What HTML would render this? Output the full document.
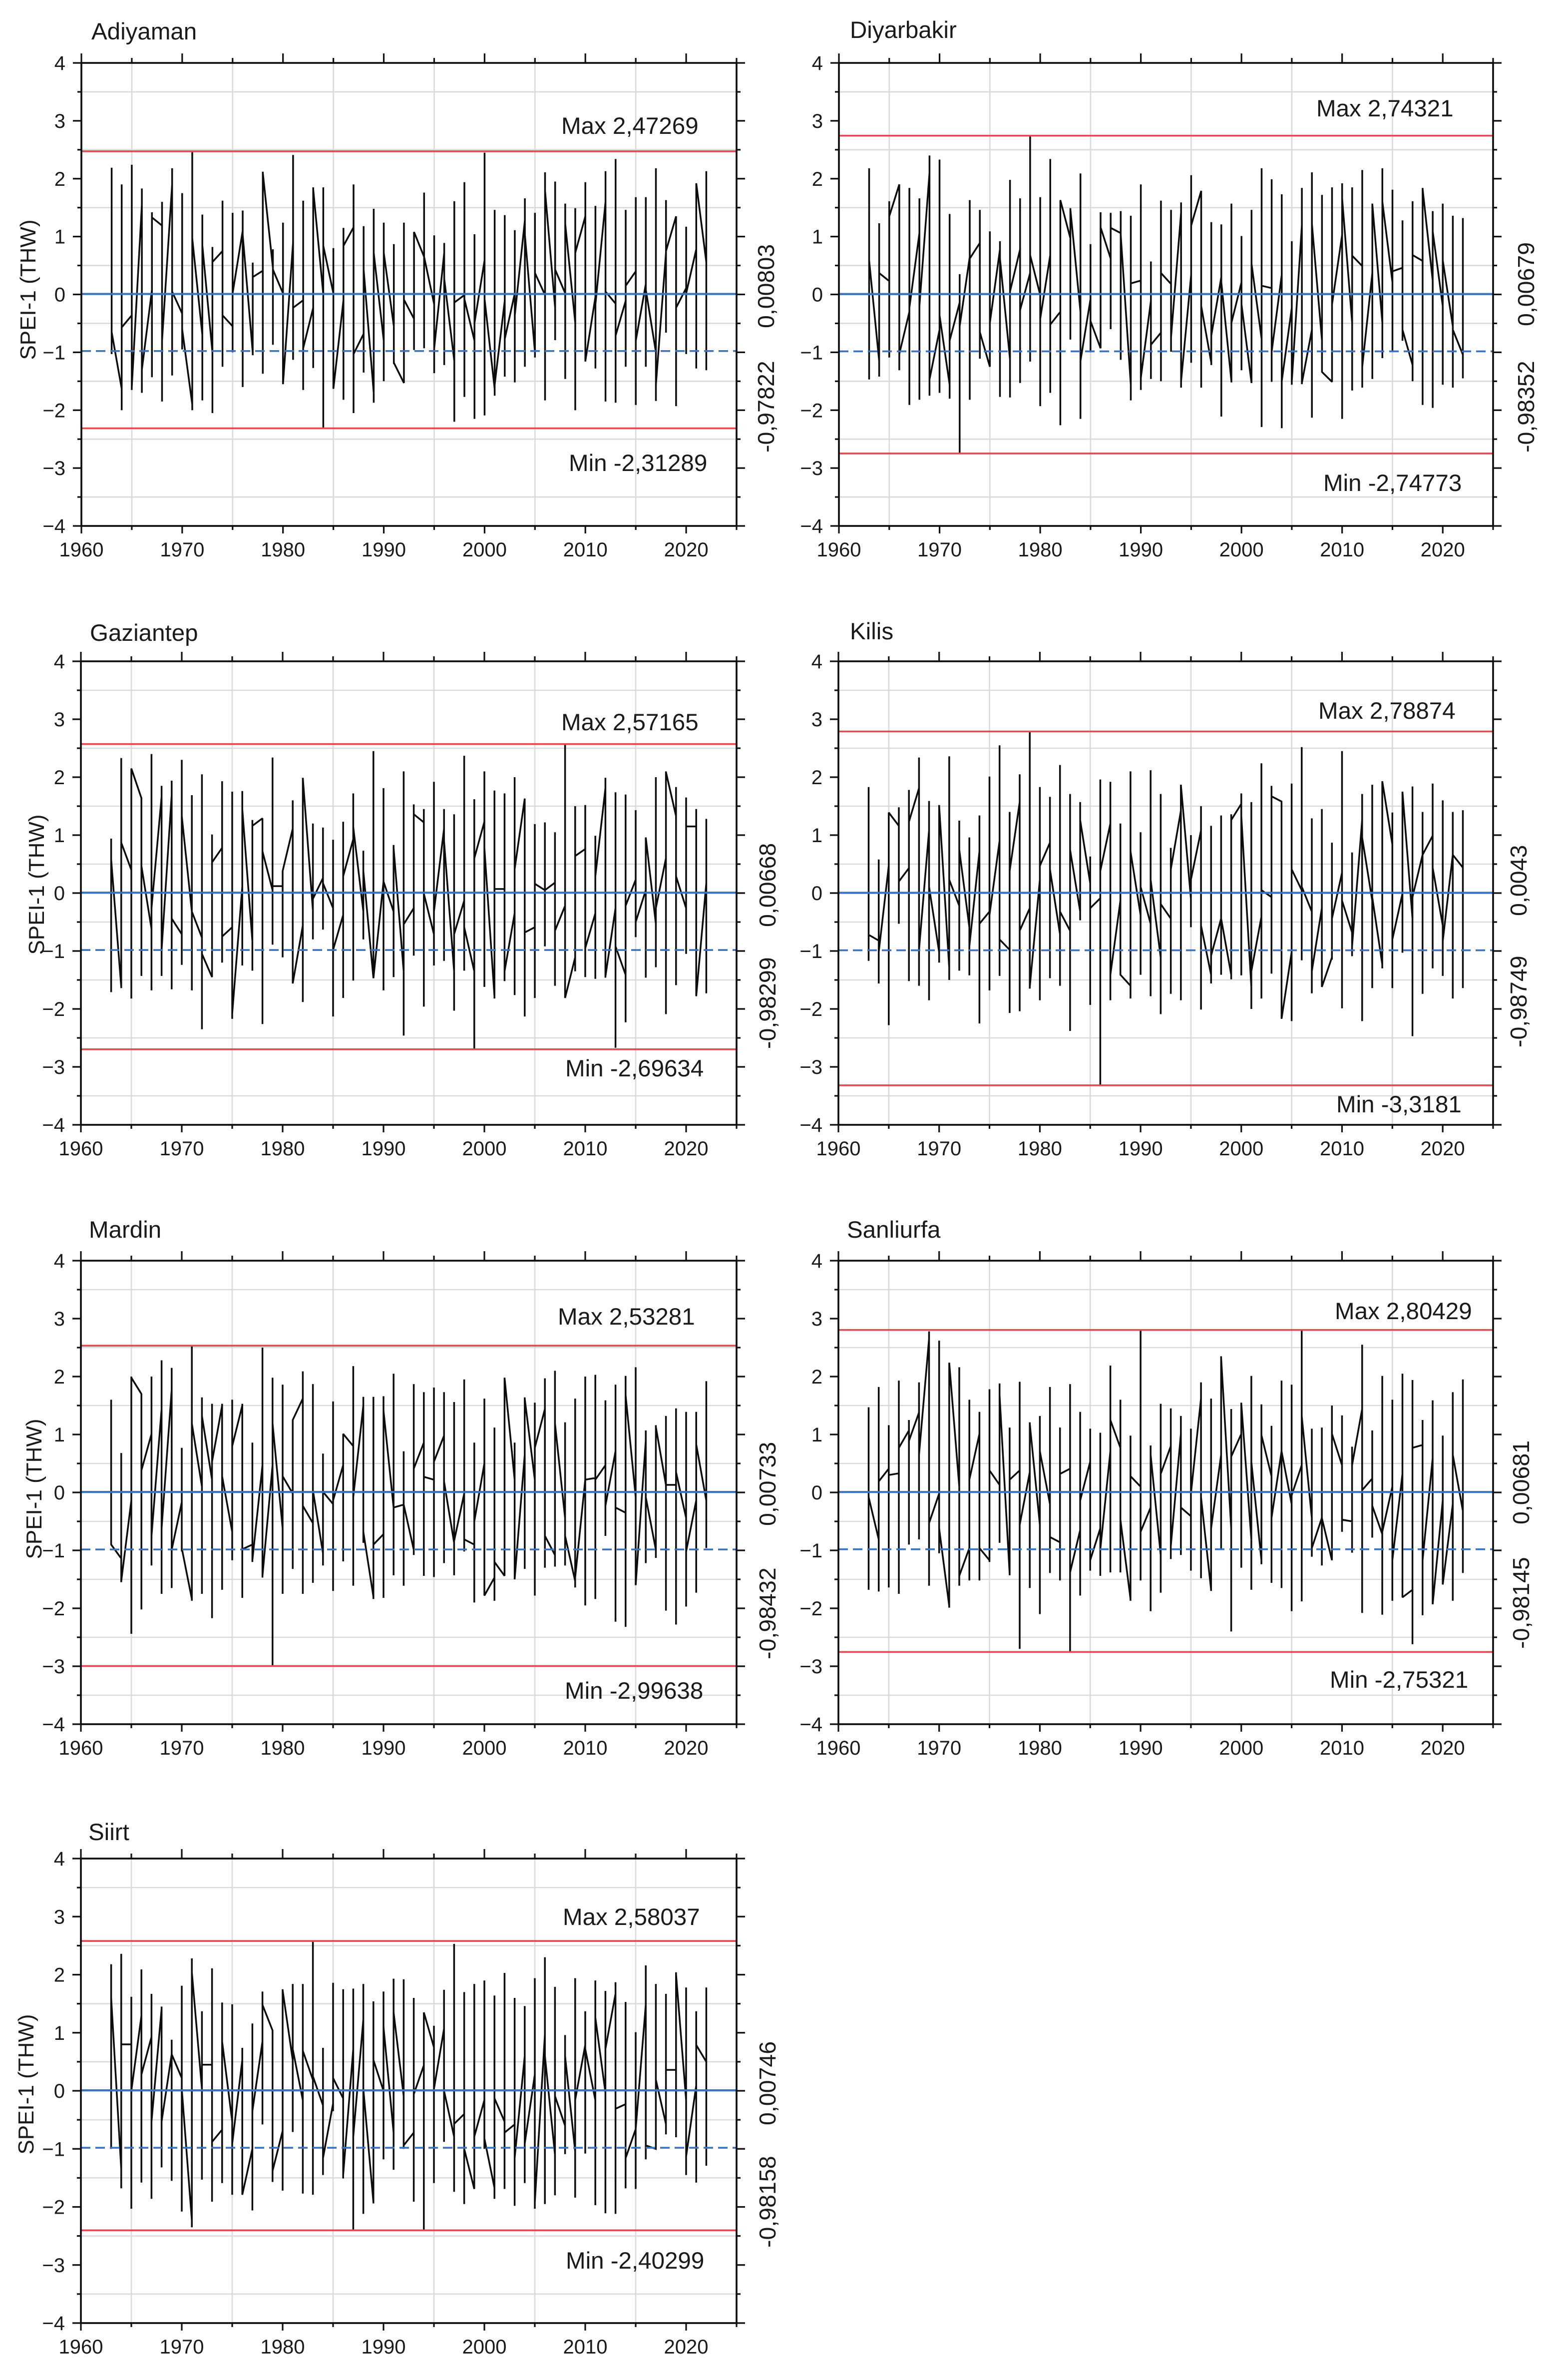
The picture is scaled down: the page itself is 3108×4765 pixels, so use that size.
<!DOCTYPE html>
<html lang="en">
<head>
<meta charset="utf-8">
<title>SPEI-1 (THW) time series by province</title>
<style>
html,body{margin:0;padding:0;background:#fff;}
svg{display:block;}
text{font-family:"Liberation Sans",Arial,sans-serif;fill:#1a1a1a;}
</style>
</head>
<body>
<svg id="chart" xmlns="http://www.w3.org/2000/svg" width="3108" height="4765" viewBox="0 0 3108 4765"></svg>
<script>
const firstYear = 1963;
const xTickLabels = ["1960","1970","1980","1990","2000","2010","2020"];
const yTickLabels = ["4","3","2","1","0","\u22121","\u22122","\u22123","\u22124"];
const yTickValues = [4,3,2,1,0,-1,-2,-3,-4];

const adiyamanHigh = [2.19,1.9,2.24,1.83,1.42,1.6,2.18,1.75,2.47,1.38,.82,1.62,1.41,1.45,.55,2.12,.78,1.24,2.41,1.62,1.85,1.85,.8,1.15,1.9,1.18,1.48,1.24,.87,1.24,1.08,1.76,1.02,.89,1.61,1.94,1.04,2.45,1.46,1.37,1.11,1.66,1.41,2.11,1.95,1.57,1.49,1.94,1.53,2.13,2.34,1.46,1.68,1.68,2.18,1.63,1.35,1.17,1.92,2.13];
const adiyamanLow = [-1.03,-2.0,-1.65,-1.7,-1.43,-1.85,-1.4,-.95,-2.0,-1.83,-2.05,-1.25,-1.0,-1.6,-1.05,-1.37,-.87,-1.55,-1.13,-1.65,-1.27,-2.31,-1.62,-1.82,-2.05,-1.35,-1.87,-1.5,-1.2,-1.53,-.96,-.93,-1.36,-1.22,-2.2,-1.77,-2.15,-2.09,-1.75,-1.42,-1.52,-1.25,-1.09,-1.83,-.79,-1.46,-2.0,-1.16,-1.28,-1.85,-1.87,-1.25,-1.91,-1.25,-1.84,-.66,-1.93,-1.03,-1.28,-1.31];
const adiyamanFirst = [-.65,-1.63,-.36,1.55,.08,1.19,1.9,-.33,-1.9,-.7,-1.0,.75,-.55,1.1,-1.0,.41,.46,.02,.9,-.1,-.23,0,.02,-.1,1.16,-.68,-1.7,-.8,-.55,-1.53,-.42,.65,-.17,.72,-1.15,-.01,-.8,.59,-1.63,-.11,.02,1.28,-1.0,-.01,-.23,.02,-.49,1.35,-.04,1.6,-.16,-.11,.4,.18,-1.0,.72,1.35,.11,.78,.56];
const adiyamanLast = [-.65,-.57,-1.6,-1.3,1.33,-.8,.05,-.6,.97,.85,.56,-.36,.02,1.03,.3,2.1,.43,-1.55,-.23,-.93,1.82,.84,-1.63,.84,-1.03,.43,.72,.72,-1.18,-.09,1.08,.65,-.93,.27,-.14,-.08,-.49,-.08,-1.56,-.77,-.36,1.03,.37,1.79,.43,1.22,.72,-1.15,-.17,.05,-.71,.15,-.8,.08,-1.56,.75,-.23,.02,1.92,.56];

const diyarbakirHigh = [2.18,1.23,1.61,1.9,1.84,1.66,2.4,2.33,1.39,.35,1.63,1.46,1.09,.92,1.98,1.66,2.74,1.68,2.34,1.63,1.49,2.09,.87,1.42,1.41,1.44,1.36,1.9,.57,1.62,1.46,1.59,2.06,1.79,1.25,1.21,1.57,1.01,1.46,2.18,1.99,1.73,.92,1.84,2.11,1.72,1.85,1.92,1.85,2.15,1.57,2.18,1.81,1.28,1.61,1.84,1.44,1.57,1.36,1.32];
const diyarbakirLow = [-1.47,-1.42,-1.09,-1.31,-1.91,-1.82,-1.75,-1.7,-1.8,-2.75,-1.82,-1.11,-1.25,-1.77,-1.78,-1.53,-1.16,-1.93,-1.7,-2.26,-.78,-2.15,-1.0,-.93,-.6,-1.13,-1.83,-1.65,-1.46,-1.5,-.99,-1.61,-1.18,-1.61,-1.22,-2.11,-1.52,-1.31,-1.53,-2.29,-1.51,-2.31,-1.56,-1.55,-2.13,-1.34,-1.51,-2.15,-1.66,-1.61,-1.46,-1.1,-.97,-.8,-1.5,-1.91,-1.96,-1.56,-1.61,-1.45];
const diyarbakirFirst = [.59,-1.15,.23,1.9,-.3,1.06,2.1,-.61,-1.56,-.14,.65,.89,-1.25,.78,-1.12,.78,.37,-.01,.68,-.3,.97,-.3,-.08,-.93,.62,1.06,-1.56,.24,-.11,-.66,.18,1.41,.34,1.79,-1.18,.3,-1.5,.21,-1.53,-.77,.11,.34,-.23,1.19,-.61,-.8,-1.51,1.03,-.49,.49,.37,-.49,.21,.46,-1.22,.58,.24,-.2,-.55,-1.04];
const diyarbakirLast = [.59,.37,1.35,-1.03,-.23,-.2,-1.47,-.36,-.8,-.55,.62,-.65,-.49,.62,.05,-.27,.68,-.42,-.52,1.63,1.47,-1.15,-.46,1.16,1.15,1.03,.19,-1.44,-.87,.37,-.74,-1.5,1.19,-.2,-.71,.21,-.49,-.17,.53,.15,-.99,-1.5,-1.5,-1.53,1.22,-1.34,-.17,1.66,.67,-1.25,1.56,1.6,.4,-.61,.68,1.82,1.09,.59,-.61,-1.04];

const gaziantepHigh = [.94,2.33,2.15,1.65,2.4,1.85,1.94,2.3,1.69,2.05,1.01,1.93,1.75,1.76,1.26,1.29,2.34,.38,1.6,1.99,1.2,1.13,.92,1.23,1.72,.73,2.45,1.81,.83,2.1,1.53,1.45,1.92,1.45,1.36,2.37,1.62,2.1,1.77,1.72,2.0,1.62,1.19,1.22,1.05,2.57,1.5,1.52,.99,1.99,1.74,1.7,1.43,.96,2.0,2.1,1.83,1.65,1.45,1.28];
const gaziantepLow = [-1.71,-1.64,-1.82,-1.43,-1.68,-1.43,-1.66,-1.24,-1.68,-2.35,-1.45,-1.2,-2.17,-1.25,-1.34,-2.26,-.89,-1.11,-1.56,-1.88,-.8,-.63,-2.13,-1.81,-1.51,-.8,-1.47,-1.68,-1.45,-2.46,-1.08,-1.96,-1.25,-1.17,-2.03,-1.34,-2.7,-1.62,-1.82,-1.52,-1.76,-2.13,-1.81,-.92,-1.6,-1.81,-1.35,-1.45,-1.48,-1.46,-2.67,-2.23,-.76,-1.46,-1.28,-2.09,-1.59,-1.05,-1.78,-1.73];
const gaziantepFirst = [.58,-1.62,.4,1.64,-.62,1.66,1.69,-.71,-.32,-.77,-1.45,.78,-.59,.11,-.83,1.29,.05,.12,1.11,-.56,-.3,.26,-.26,-.38,.93,-.32,-1.47,.2,-.32,-1.35,-.26,1.22,-.71,1.11,-1.35,-.13,-1.35,1.23,-1.78,.07,-.35,1.63,-.59,.05,.18,-.22,-1.11,.76,-.35,1.81,-.26,-1.41,.23,.05,-.53,.6,1.33,-.26,1.15,.17];
const gaziantepLast = [.58,.87,2.15,.47,-.26,-.98,-.44,1.33,-.32,-1.05,.53,-.75,-2.08,1.45,1.16,.72,.12,.38,-1.56,1.99,-.1,.17,-.98,.29,1.14,.38,-1.47,.2,.78,-.54,1.36,-.01,-.32,.9,-.71,-.59,.6,.78,.07,-1.35,.41,-.68,.16,.05,-.65,-1.81,.64,-.95,.29,-1.44,-.92,-.22,-.5,.96,-.26,2.09,.29,1.15,-1.78,.5];

const kilisHigh = [1.83,.58,1.39,1.48,1.78,2.34,1.59,1.52,2.36,1.25,.96,1.34,2.01,2.55,1.4,2.05,2.79,1.83,1.66,2.21,1.71,1.57,.63,1.96,1.92,1.2,2.1,1.05,2.12,1.71,.78,1.87,1.0,1.5,1.16,1.34,1.36,1.72,1.57,2.24,1.85,1.57,1.89,2.52,1.29,1.45,.87,2.45,.7,1.71,1.87,1.93,1.39,1.75,1.84,1.4,1.89,1.6,1.4,1.43];
const kilisLow = [-1.17,-1.56,-2.28,-.53,-1.52,-1.6,-1.85,-1.2,-1.5,-1.34,-1.42,-2.25,-1.68,-1.43,-2.07,-2.04,-1.65,-1.85,-1.47,-1.6,-2.38,-.47,-1.93,-3.32,-1.85,-1.41,-1.82,-1.41,-1.78,-2.09,-1.74,-1.85,-.59,-2.01,-1.56,-1.41,-1.49,-1.42,-2.0,-1.82,-1.39,-2.17,-2.21,-1.16,-1.73,-1.62,-1.15,-1.99,-1.09,-2.21,-1.64,-1.3,-1.64,-1.03,-2.47,-1.74,-1.3,-1.43,-1.82,-1.64];
const kilisFirst = [-.72,-.82,.47,1.16,.43,1.81,1.08,-1.02,-1.29,-.22,-.59,.72,-.32,.9,-.98,1.57,-.26,.23,.87,-.71,-.65,-.32,.17,-.09,1.2,-.13,-1.6,-.38,-.53,-1.11,-.44,1.42,-.1,1.08,-1.41,-.44,-1.41,1.54,-1.62,-.41,-.07,1.58,-1.02,.05,-.32,-.26,-1.11,.35,-.68,1.26,-.13,-1.23,.84,-.01,-.44,.66,.99,-.56,.66,.44];
const kilisLast = [-.72,-1.02,1.39,.2,1.23,-.98,.11,1.51,.23,.75,-.92,-.53,-.38,-.8,.38,-.65,-1.62,.47,.41,-.32,.75,1.26,-.26,.38,-1.41,-1.41,.72,.11,.23,-.19,.41,1.87,.23,-.56,-1.08,-.44,1.26,1.33,-1.35,.05,1.67,-2.17,.41,.11,-1.35,-1.62,-.44,-.13,-.92,.96,-.07,1.93,-.8,1.75,-.07,.66,.44,-.83,.66,.44];

const mardinHigh = [1.6,.68,2.0,1.7,2.0,2.28,2.15,.77,2.53,1.64,1.53,1.53,1.6,1.53,.86,2.5,1.98,1.86,1.24,2.09,1.87,.67,1.57,1.01,2.18,1.65,1.65,1.66,2.05,.71,1.87,1.73,1.81,1.73,1.56,1.95,.86,1.62,1.12,1.98,.86,1.64,1.55,1.97,2.1,1.21,1.62,2.0,2.03,1.59,1.86,2.01,2.16,1.07,1.16,1.32,1.45,1.39,1.39,1.92];
const mardinLow = [-.9,-1.55,-2.44,-2.02,-1.26,-1.75,-1.65,-1.02,-1.87,-1.75,-2.17,-1.68,-1.17,-1.82,-1.2,-1.47,-3.0,-1.75,-1.32,-1.75,-1.56,-1.26,-1.7,-1.19,-1.61,-.87,-1.84,-1.82,-1.43,-1.61,-1.08,-1.44,-1.46,-1.22,-1.43,-1.02,-1.9,-1.78,-1.87,-1.44,-1.5,-1.32,-1.78,-1.3,-1.28,-1.26,-1.64,-1.95,-1.84,-.75,-2.23,-2.32,-1.6,-1.22,-1.13,-2.04,-2.28,-1.97,-1.73,-.96];
const mardinFirst = [-.9,-1.14,-.14,1.7,1.01,1.44,1.77,-.17,-1.84,.1,.22,1.5,-.68,1.5,-.9,.47,.47,-.62,-.02,1.62,-.53,-1.05,-.2,.47,.8,1.5,-1.8,-.72,-.26,-.21,-.99,.86,.22,.98,-.87,-.02,-.9,.5,-1.47,-1.44,.22,.65,.22,1.44,-1.08,-.44,-1.53,.22,.25,.47,.71,-.35,-.08,.89,-.99,.13,.13,-.44,-.14,-.14];
const mardinLast = [-.9,-1.53,1.98,.38,-.75,-.62,-.99,-.96,1.19,1.32,.53,.28,.8,-.98,-1.17,-1.44,1.19,.28,1.25,-.23,.04,.01,-.14,1.01,-.08,-.68,-.9,1.41,-.26,-.21,.41,.27,.53,.19,-.84,-.81,-.5,-1.78,-1.2,1.98,-1.5,1.62,.77,-.75,1.19,-.75,-1.47,.22,.22,-.23,-.26,1.68,-1.6,-.08,1.13,.13,.35,-1.02,.83,-.14];

const sanliurfaHigh = [1.47,1.82,1.16,1.93,1.25,1.9,2.78,2.62,2.24,2.16,1.6,1.39,1.78,1.88,1.12,1.91,1.21,1.32,1.82,1.12,1.87,1.39,1.1,1.03,2.19,1.6,.98,2.8,.81,1.53,1.45,1.32,1.1,1.9,1.62,2.35,1.44,1.55,2.01,1.52,1.15,1.93,1.86,2.8,1.1,1.12,1.5,1.33,.79,2.55,1.07,2.01,1.6,2.05,1.94,1.25,1.59,.98,1.73,1.95];
const sanliurfaLow = [-1.68,-1.71,-1.64,-1.75,-.9,-.81,-1.61,-1.05,-1.99,-1.61,-1.52,-1.52,-1.2,-.87,-1.43,-2.7,-1.65,-2.1,-1.39,-1.52,-2.75,-1.78,-1.35,-1.44,-1.38,-1.38,-1.87,-1.52,-2.05,-1.73,-1.15,-1.08,-1.35,-1.48,-1.7,-.98,-2.4,-1.3,-1.68,-1.24,-1.56,-1.65,-2.05,-1.88,-1.11,-1.26,-1.17,-.68,-1.04,-2.08,-.78,-2.11,-1.87,-1.81,-2.62,-2.12,-1.93,-1.59,-1.87,-1.39];
const sanliurfaFirst = [-.08,-.81,.41,.33,1.07,1.38,2.65,-.02,-1.96,.1,-.96,1.01,-1.17,.13,-1.41,.38,.35,-.56,-.2,-.86,.41,-.65,.53,-.62,.71,.77,-1.84,.1,-.26,-1.08,.8,1.01,-.41,1.62,-1.68,.65,-.62,1.01,-.81,-1.17,.28,.71,-.2,.47,-.44,-.44,-1.17,.47,-.5,1.44,.24,-.72,.1,.32,-1.68,.82,.59,-.14,-.2,-.32];
const sanliurfaLast = [-.08,.19,.3,.77,.89,.65,-.53,-.62,2.24,-1.44,.22,-.96,.38,1.68,.22,-.56,1.19,.71,-.77,.32,-1.38,-.14,-1.17,-.99,1.25,-.47,.28,-.68,.65,.32,-.93,-.26,-.02,-.08,-.62,2.32,.62,1.53,.53,.99,-.44,.71,-.05,1.32,-.96,-.44,1.01,-.47,.47,.04,-.23,-.68,-1.17,-1.81,.77,-1.17,-1.93,-1.59,.65,-.32];

const siirtHigh = [2.18,2.36,1.62,2.09,1.67,1.45,.88,1.81,2.28,1.37,2.11,1.52,1.49,.74,1.16,1.71,1.04,1.75,1.84,1.84,2.58,.74,1.86,1.75,1.76,1.84,1.54,1.71,1.93,1.92,1.6,1.34,1.12,1.74,2.53,1.7,1.84,1.9,1.64,2.03,1.6,1.46,1.94,2.3,1.79,.96,1.94,1.37,1.9,1.72,1.87,1.53,1.01,2.16,1.84,1.67,2.04,1.78,1.37,1.78];
const siirtLow = [-1.0,-1.68,-2.03,-1.58,-1.86,-1.32,-1.55,-2.08,-2.35,-1.53,-1.91,-1.59,-1.79,-1.79,-2.06,-.58,-1.57,-1.72,-.71,-1.77,-1.79,-1.45,-.35,-1.51,-2.4,-2.12,-1.94,-1.18,-1.36,-1.0,-1.91,-2.4,-1.59,-.88,-1.74,-1.95,-1.69,-1.0,-1.86,-1.69,-1.98,-1.59,-2.03,-1.95,-1.8,-1.09,-1.84,-1.08,-1.97,-2.11,-2.12,-1.68,-1.69,-1.18,-1.0,-.75,-.8,-1.45,-1.58,-1.29];
const siirtFirst = [1.6,-1.35,.8,1.29,.93,1.41,.63,.22,-2.23,.03,.45,-.67,-.53,.53,-1.0,.85,1.04,-.69,.53,-.16,.19,-.25,-.22,-.13,.72,1.23,-1.92,0,-.72,-.09,-.72,.44,.75,1.07,-.79,-.4,-1.69,-.16,-1.67,-.53,-.58,.6,.28,.97,-1.1,-.6,-1.04,.79,-.16,-.03,1.67,-.23,-.66,1.48,-1.0,-.57,.36,-.16,.09,.5];
const siirtLast = [1.6,.8,0,.28,-.53,-.53,.63,.03,2.04,.45,-.88,.85,-.91,-1.79,-.35,1.48,-1.38,1.73,.72,.69,.25,-1.16,.22,-1.45,-.79,.03,.53,1.1,1.35,-.94,-.06,1.35,.03,0,-.57,-1.0,-.79,-.82,-.13,-.72,-1.16,-.91,-1.92,.6,-.09,.6,-.16,.72,1.26,.72,-.31,-1.16,-.66,-.94,.19,.36,2.01,-1.13,.79,.5];

const stationNames = ["Adiyaman","Diyarbakir","Gaziantep","Kilis","Mardin","Sanliurfa","Siirt"];
const stationMax = [2.47269,2.74321,2.57165,2.78874,2.53281,2.80429,2.58037];
const stationMin = [-2.31289,-2.74773,-2.69634,-3.3181,-2.99638,-2.75321,-2.40299];
const stationMean = [0.00803,0.00679,0.00668,0.0043,0.00733,0.00681,0.00746];
const stationLower = [-0.97822,-0.98352,-0.98299,-0.98749,-0.98432,-0.98145,-0.98158];
const maxLabels = ["Max 2,47269","Max 2,74321","Max 2,57165","Max 2,78874","Max 2,53281","Max 2,80429","Max 2,58037"];
const minLabels = ["Min -2,31289","Min -2,74773","Min -2,69634","Min -3,3181","Min -2,99638","Min -2,75321","Min -2,40299"];
const meanLabels = ["0,00803","0,00679","0,00668","0,0043","0,00733","0,00681","0,00746"];
const lowerLabels = ["-0,97822","-0,98352","-0,98299","-0,98749","-0,98432","-0,98145","-0,98158"];
const highSeries = [adiyamanHigh,diyarbakirHigh,gaziantepHigh,kilisHigh,mardinHigh,sanliurfaHigh,siirtHigh];
const lowSeries = [adiyamanLow,diyarbakirLow,gaziantepLow,kilisLow,mardinLow,sanliurfaLow,siirtLow];
const firstSeries = [adiyamanFirst,diyarbakirFirst,gaziantepFirst,kilisFirst,mardinFirst,sanliurfaFirst,siirtFirst];
const lastSeries = [adiyamanLast,diyarbakirLast,gaziantepLast,kilisLast,mardinLast,sanliurfaLast,siirtLast];

/* layout only */
const layouts = [
 {l:163,r:1475,t:126,b:1053,tx:183,ty:79,yl:[71,580],mr:[1550,657,906],mx:[1124,268],mn:[1139,943]},
 {l:1680,r:2990,t:126,b:1053,tx:1702,ty:76,yl:null,mr:[3072,653,906],mx:[2636,233],mn:[2650,983]},
 {l:162,r:1475,t:1324,b:2252,tx:180,ty:1283,yl:[88,1771],mr:[1553,1856,2100],mx:[1124,1462],mn:[1132,2155]},
 {l:1679,r:2990,t:1324,b:2252,tx:1702,ty:1280,yl:null,mr:[3057,1834,2097],mx:[2640,1439],mn:[2676,2227]},
 {l:162,r:1475,t:2524,b:3452,tx:178,ty:2478,yl:[83,2981],mr:[1553,3055,3322],mx:[1117,2652],mn:[1131,3401]},
 {l:1679,r:2990,t:2524,b:3452,tx:1696,ty:2478,yl:null,mr:[3062,3052,3301],mx:[2673,2641],mn:[2663,3379]},
 {l:162,r:1475,t:3721,b:4651,tx:177,ty:3684,yl:[67,4173],mr:[1553,4255,4500],mx:[1127,3854],mn:[1133,4542]}
];

const NS = "http://www.w3.org/2000/svg";
const root = document.getElementById("chart");

function shape(parent, tag, props) {
  const node = document.createElementNS(NS, tag);
  for (const k in props) node.setAttribute(k, props[k]);
  parent.appendChild(node);
  return node;
}
function rule(parent, x1, y1, x2, y2, color, width, dash) {
  const props = {x1:x1, y1:y1, x2:x2, y2:y2, stroke:color, "stroke-width":width};
  if (dash) props["stroke-dasharray"] = dash;
  return shape(parent, "line", props);
}
function label(parent, content, x, y, size, anchor, rotate) {
  const props = {x:x, y:y, "font-size":size};
  if (anchor) props["text-anchor"] = anchor;
  if (rotate) props.transform = "rotate(-90 " + x + " " + y + ")";
  const node = shape(parent, "text", props);
  node.textContent = content;
  return node;
}

stationNames.forEach(function (station, p) {
  const L = layouts[p];
  const slug = station.toLowerCase();
  const xAt = function (year) { return L.l + (year - 1960) * (L.r - L.l) / 65; };
  const yAt = function (v) { return L.t + (4 - v) * (L.b - L.t) / 8; };

  const panel = shape(root, "g", {});
  
  

  const title = label(panel, station, L.tx, L.ty, 47.5);
  
  

  const grid = shape(panel, "g", {});
  
  
  for (let v = -3.5; v <= 3.5; v += 1) {
    const g1 = rule(grid, L.l, yAt(v), L.r, yAt(v), "#dadada", 2.6);
    
    
  }
  for (let yr = 1965; yr <= 2015; yr += 10) {
    const g2 = rule(grid, xAt(yr), L.t, xAt(yr), L.b, "#dadada", 2.6);
    
    
  }

  let d = "";
  for (let i = 0; i < highSeries[p].length; i++) {
    const x = xAt(firstYear + i).toFixed(1);
    d += (i === 0 ? "M" : "L") + x + " " + yAt(firstSeries[p][i]).toFixed(1);
    d += "L" + x + " " + yAt(highSeries[p][i]).toFixed(1);
    d += "L" + x + " " + yAt(lowSeries[p][i]).toFixed(1);
    d += "L" + x + " " + yAt(lastSeries[p][i]).toFixed(1);
  }
  const series = shape(panel, "path", {d:d, fill:"none", stroke:"#0c0c0c", "stroke-width":3.5, "stroke-linejoin":"miter", "stroke-miterlimit":2});
  
  

  const maxLine = rule(panel, L.l, yAt(stationMax[p]), L.r, yAt(stationMax[p]), "#e04a50", 3.6);
  
  
  const minLine = rule(panel, L.l, yAt(stationMin[p]), L.r, yAt(stationMin[p]), "#e04a50", 3.6);
  
  
  const meanLine = rule(panel, L.l, yAt(stationMean[p]), L.r, yAt(stationMean[p]), "#3a74c0", 4.2);
  
  
  const lowerLine = rule(panel, L.l, yAt(stationLower[p]), L.r, yAt(stationLower[p]), "#3a74c0", 3.6, "19 10");
  
  

  const axes = shape(panel, "g", {fill:"none"});
  
  
  const frame = shape(axes, "rect", {x:L.l, y:L.t, width:L.r - L.l, height:L.b - L.t, fill:"none", stroke:"#0c0c0c", "stroke-width":3.6});
  
  

  yTickValues.forEach(function (v, i) {
    const y = yAt(v);
    const t1 = rule(axes, L.l - 17, y, L.l, y, "#111", 3.2);
    
    
    const t2 = rule(axes, L.r, y, L.r + 17, y, "#111", 3.2);
    
    
    const tl = label(panel, yTickLabels[i], L.l - 32, y + 14, 40, "end");
    
    
  });
  for (let v = -3.5; v <= 3.5; v += 1) {
    const y = yAt(v);
    const m1 = rule(axes, L.l - 8, y, L.l, y, "#111", 3.2);
    
    
    const m2 = rule(axes, L.r, y, L.r + 8, y, "#111", 3.2);
    
    
  }
  xTickLabels.forEach(function (lab) {
    const yr = Number(lab);
    const x = xAt(yr);
    const t3 = rule(axes, x, L.t - 19, x, L.t, "#111", 3.2);
    
    
    const t4 = rule(axes, x, L.b, x, L.b + 15, "#111", 3.2);
    
    
    const xl = label(panel, lab, x, L.b + 61, 40, "middle");
    
    
  });
  for (let yr = 1965; yr <= 2025; yr += 10) {
    const x = xAt(yr);
    const m3 = rule(axes, x, L.t - 10, x, L.t, "#111", 3.2);
    
    
    const m4 = rule(axes, x, L.b, x, L.b + 8, "#111", 3.2);
    
    
  }

  if (L.yl) {
    const yTitle = label(panel, "SPEI-1 (THW)", L.yl[0], L.yl[1], 44, "middle", true);
    
    
  }
  const meanText = label(panel, meanLabels[p], L.mr[0], L.mr[1], 46.5, "start", true);
  
  
  const lowerText = label(panel, lowerLabels[p], L.mr[0], L.mr[2], 46.5, "start", true);
  
  
  const maxText = label(panel, maxLabels[p], L.mx[0], L.mx[1], 47.5);
  
  
  const minText = label(panel, minLabels[p], L.mn[0], L.mn[1], 47.5);
  
  
});
</script>
</body>
</html>
